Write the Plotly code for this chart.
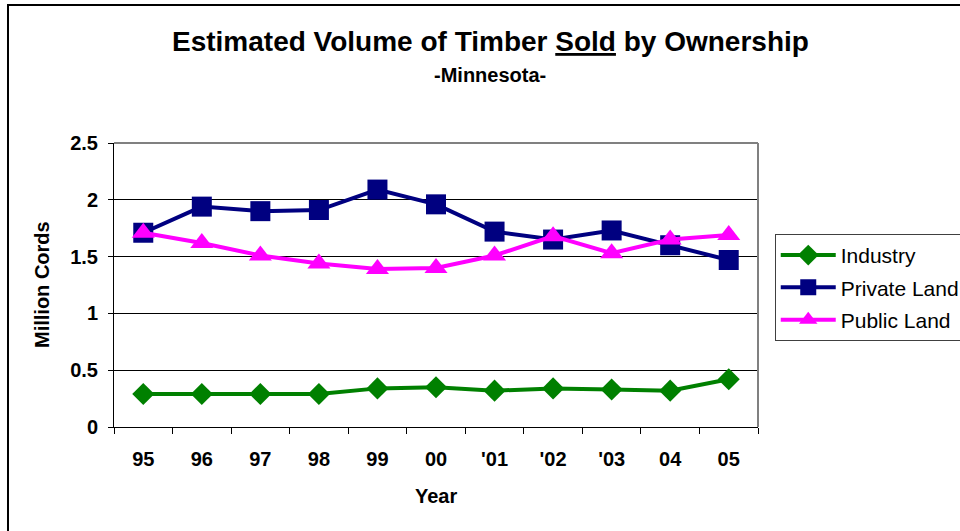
import plotly.graph_objects as go

years = ["95", "96", "97", "98", "99", "00", "'01", "'02", "'03", "04", "05"]
industry = [0.29, 0.29, 0.29, 0.29, 0.34, 0.35, 0.32, 0.34, 0.33, 0.32, 0.42]
private_land = [1.71, 1.94, 1.90, 1.91, 2.09, 1.96, 1.72, 1.65, 1.73, 1.60, 1.47]
public_land = [1.71, 1.62, 1.51, 1.44, 1.39, 1.40, 1.51, 1.68, 1.53, 1.65, 1.69]

FONT = "Liberation Sans, Arial, sans-serif"

fig = go.Figure()
fig.add_trace(go.Scatter(x=years, y=industry, name="Industry", mode="lines+markers",
                         line=dict(color="#008000", width=4),
                         marker=dict(symbol="diamond", size=17, color="#008000"),
                         legendgroup="a"))
fig.add_trace(go.Scatter(x=years, y=private_land, name="Private Land", mode="lines+markers",
                         line=dict(color="#000080", width=4),
                         marker=dict(symbol="square", size=20, color="#000080"),
                         legendgroup="b"))
fig.add_trace(go.Scatter(x=years, y=public_land, name="Public Land", mode="lines+markers",
                         line=dict(color="#FF00FF", width=4),
                         marker=dict(symbol="triangle-up", size=20, color="#FF00FF"),
                         legendgroup="c"))

fig.update_layout(
    width=960, height=531,
    margin=dict(l=114, r=202, t=143, b=104, autoexpand=False),
    paper_bgcolor="white", plot_bgcolor="white",
    font=dict(family=FONT, color="black"),
    showlegend=True,
    legend=dict(x=1.026, y=0.68, xanchor="left", yanchor="top",
                bordercolor="#404040", borderwidth=1,
                font=dict(size=21, family=FONT, color="black"),
                itemwidth=55, tracegroupgap=2, traceorder="grouped"),
    xaxis=dict(type="category", range=[-0.5, 10.5], autorange=False,
               showline=True, linecolor="black", linewidth=1,
               ticks="outside", ticklen=6, tickcolor="black", tickson="boundaries",
               showgrid=False, tickfont=dict(size=20, family=FONT, color="black", weight="bold"),
               ticklabelstandoff=14),
    yaxis=dict(range=[0, 2.5], dtick=0.5, showline=True, linecolor="black", linewidth=1,
               ticks="outside", ticklen=5, tickcolor="black",
               showgrid=True, gridcolor="black", gridwidth=1, zeroline=False,
               tickfont=dict(size=20, family=FONT, color="black", weight="bold"),
               ticklabelstandoff=6),
)

fig.add_annotation(text="Estimated Volume of Timber <u>Sold</u> by Ownership",
                   xref="paper", yref="paper", x=0.584, y=1.356, xanchor="center", yanchor="middle",
                   showarrow=False,
                   font=dict(size=28, family=FONT, color="black", weight="bold"))
fig.add_annotation(text="-Minnesota-", xref="paper", yref="paper", x=0.584, y=1.239,
                   xanchor="center", yanchor="middle",
                   showarrow=False, font=dict(size=20, family=FONT, color="black", weight="bold"))
fig.add_annotation(text="Million Cords", xref="paper", yref="paper", x=-0.1118, y=0.5,
                   xanchor="center", yanchor="middle",
                   textangle=-90, showarrow=False,
                   font=dict(size=20, family=FONT, color="black", weight="bold"))
fig.add_annotation(text="Year", xref="paper", yref="paper", x=0.5, y=-0.243,
                   xanchor="center", yanchor="middle",
                   showarrow=False, font=dict(size=20, family=FONT, color="black", weight="bold"))

# gray plot-area border (top and right)
fig.add_shape(type="line", xref="paper", yref="paper", x0=0, x1=1, y0=1, y1=1,
              line=dict(color="#808080", width=2))
fig.add_shape(type="line", xref="paper", yref="paper", x0=1, x1=1, y0=0, y1=1,
              line=dict(color="#808080", width=2))
# outer chart border
fig.add_shape(type="rect", xref="paper", yref="paper", x0=-0.1646, x1=2, y0=-1, y1=1.486,
              line=dict(color="black", width=2), layer="below")

fig.write_html("out.html", config={"displayModeBar": False},
               post_script="document.body.style.margin='0';")
